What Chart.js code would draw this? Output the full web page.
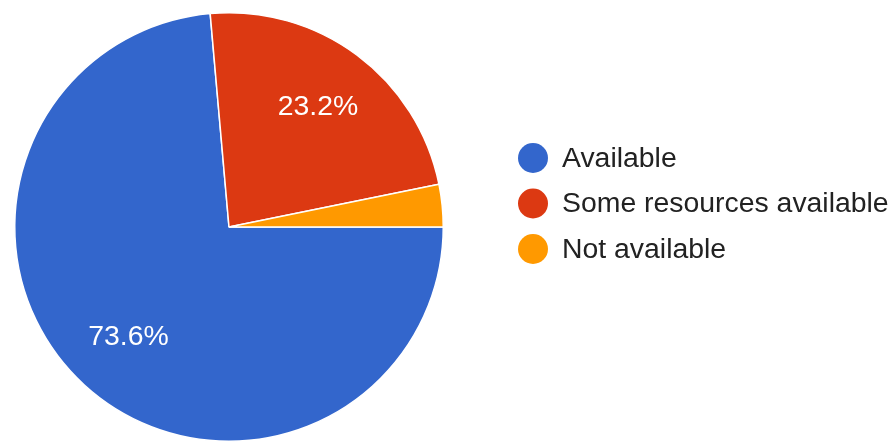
<!DOCTYPE html>
<html>
<head>
<meta charset="utf-8">
<script src="https://cdn.jsdelivr.net/npm/chart.js@4"></script>
<style>
html,body{margin:0;padding:0;background:#fff;}
#wrap{width:895px;height:442px;position:relative;}
</style>
</head>
<body>
<div id="wrap"><canvas id="c" width="895" height="442"></canvas></div>
<script>
const categories = ["Available", "Some resources available", "Not available"];
const percentages = [73.6, 23.2, 3.2];
const sliceColors = ["#3366CC", "#DC3912", "#FF9900"];

const FONT = '"Liberation Sans", Arial, sans-serif';

const sliceLabels = {
  id: 'sliceLabels',
  afterDatasetsDraw(chart) {
    const ctx = chart.ctx;
    const meta = chart.getDatasetMeta(0);
    ctx.save();
    ctx.font = '28.4px ' + FONT;
    ctx.fillStyle = '#ffffff';
    ctx.textAlign = 'center';
    ctx.textBaseline = 'middle';
    meta.data.forEach((arc, i) => {
      const v = percentages[i];
      if (v < 5) return;
      const {x, y, startAngle, endAngle, outerRadius} = arc.getProps(['x','y','startAngle','endAngle','outerRadius'], true);
      const mid = (startAngle + endAngle) / 2;
      const r = outerRadius * 0.695;
      ctx.fillText(v.toFixed(1) + '%', x + Math.cos(mid) * r, y + Math.sin(mid) * r);
    });
    ctx.restore();
  }
};

const customLegend = {
  id: 'customLegend',
  afterDraw(chart) {
    const ctx = chart.ctx;
    ctx.save();
    ctx.font = '28.4px ' + FONT;
    ctx.textAlign = 'left';
    ctx.textBaseline = 'middle';
    const cx = 533, y0 = 158, step = 45.5, rad = 15;
    categories.forEach((lab, i) => {
      const y = y0 + i * step;
      ctx.beginPath();
      ctx.arc(cx, y, rad, 0, Math.PI * 2);
      ctx.fillStyle = sliceColors[i];
      ctx.fill();
      ctx.fillStyle = '#222222';
      ctx.fillText(lab, 562, y + 1);
    });
    ctx.restore();
  }
};

new Chart(document.getElementById('c'), {
  type: 'pie',
  data: {
    labels: categories,
    datasets: [{
      data: percentages,
      backgroundColor: sliceColors,
      borderColor: '#ffffff',
      borderWidth: 1.5
    }]
  },
  options: {
    responsive: false,
    animation: false,
    rotation: 90,
    layout: { padding: { left: 14, right: 451, top: 12, bottom: 0 } },
    plugins: {
      legend: { display: false },
      tooltip: { enabled: false }
    }
  },
  plugins: [sliceLabels, customLegend]
});
</script>
</body>
</html>
